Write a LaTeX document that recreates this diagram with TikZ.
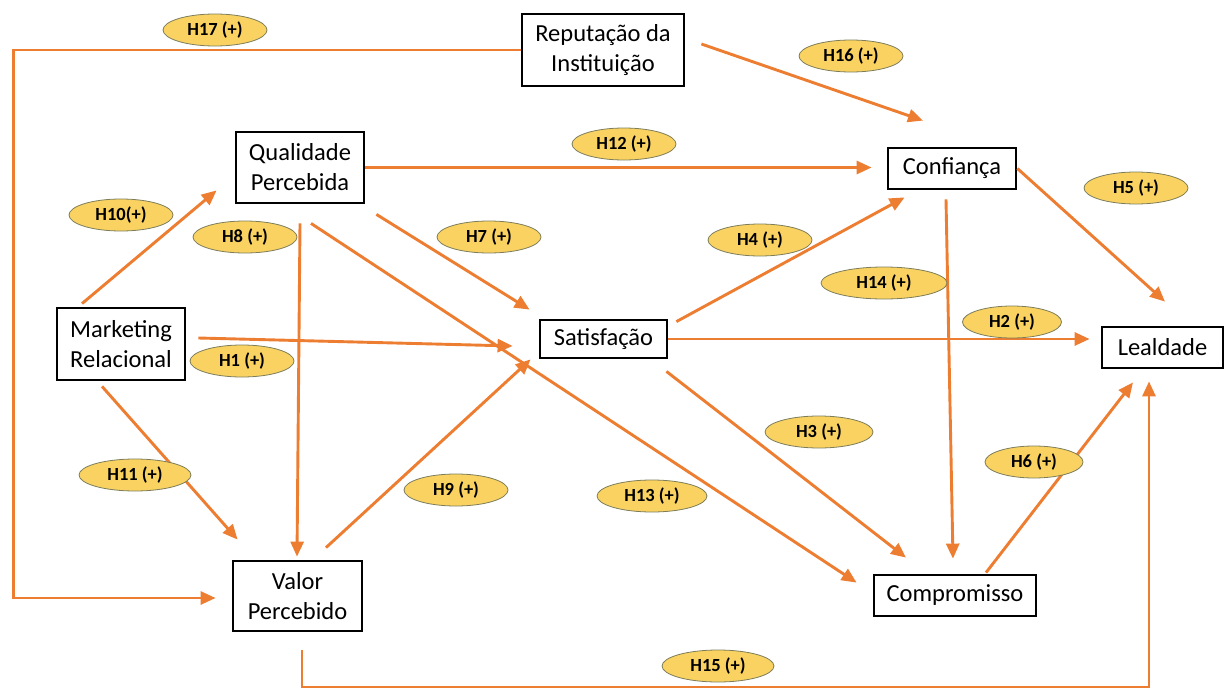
\documentclass[tikz,border=0pt]{standalone}
\usepackage{fontspec}
\setmainfont{Carlito}
\usetikzlibrary{arrows.meta,calc,shapes.geometric}
\definecolor{linkorange}{RGB}{237,125,49}
\definecolor{hypfill}{RGB}{249,210,98}
\definecolor{hypedge}{RGB}{125,125,90}
\tikzset{
  construct/.style={draw=black, line width=2.8pt, fill=white, inner sep=0pt,
    align=center, font=\fontsize{24.5}{30}\selectfont},
  hyp/.style={ellipse, draw=hypedge, line width=0.8pt, fill=hypfill, inner sep=0pt,
    minimum width=104pt, minimum height=32pt, font=\fontsize{18.5}{20}\selectfont\bfseries},
  link/.style={draw=linkorange, line width=2.9pt,
    -{Triangle[length=15pt,width=13pt]}}
}
\begin{document}
\begin{tikzpicture}[x=1pt,y=-1pt]
\useasboundingbox (0,0) rectangle (1224,688);

% constructs of the model
\node[construct, minimum width=162pt, minimum height=72pt] (rep)  at (603,50)     {Reputação da\\Instituição};
\node[construct, minimum width=128pt, minimum height=71pt] (qp)   at (300,167.5)  {Qualidade\\Percebida};
\node[construct, minimum width=128pt, minimum height=41pt] (conf) at (952,168.5)  {Confiança};
\node[construct, minimum width=128pt, minimum height=72pt] (mr)   at (121,344)    {Marketing\\Relacional};
\node[construct, minimum width=127pt, minimum height=38pt] (sat)  at (603.5,339)  {Satisfação};
\node[construct, minimum width=121pt, minimum height=41pt] (leal) at (1162.5,347.5) {Lealdade};
\node[construct, minimum width=129pt, minimum height=70pt] (vp)   at (297.5,596)  {Valor\\Percebido};
\node[construct, minimum width=162pt, minimum height=41pt] (comp) at (955,595.5)  {Compromisso};

% hypothesised paths
\draw[link] (rep.west) -- ++(-507,0) |- ($(vp.west)+(-16,2)$);                 % H17
\draw[link] ($(rep.east)+(16,-6)$) -- ($(conf.north)+(-29,-26)$);              % H16
\draw[link] (qp.east) -- ($(conf.west |- qp.east)+(-15,0)$);                   % H12
\draw[link] ($(mr.north)+(-39,-3)$) -- ($(qp.south west)+(-18,-14)$);          % H10
\draw[link] ($(qp.south)+(0,19)$) -- ($(vp.north)+(-0.5,-3)$);                 % H8
\draw[link] ($(qp.south)+(11,19)$) -- ($(comp.north west)+(-16,9)$);           % H13
\draw[link] ($(qp.south east)+(11,10)$) -- ($(sat.north west)+(-9,-9)$);       % H7
\draw[link] ($(mr.east)+(12,-6)$) -- ($(sat.west)+(-26,7)$);                   % H1
\draw[link] ($(mr.south)+(-19,5)$) -- ($(vp.north west)+(6,-20)$);             % H11
\draw[link] ($(vp.north)+(28.5,-12)$) -- ($(sat.south west)+(-8,0)$);          % H9
\draw[link] ($(sat.north east)+(8,3)$) -- ($(conf.south west)+(18,7)$);        % H4
\draw[link] (sat.east) -- ($(leal.west |- sat.east)+(-11,0)$);                 % H2
\draw[link] ($(sat.south east)+(-2,12)$) -- ($(comp.north)+(-49,-16)$);        % H3
\draw[link] ($(conf.south)+(-6,9)$) -- ($(comp.north)+(-2,-15)$);              % H14
\draw[link] (conf.east) -- ($(leal.north)+(2.5,-24)$);                         % H5
\draw[link] ($(comp.north)+(31,-1)$) -- ($(leal.south)+(-29.5,13)$);           % H6
\draw[link] ($(vp.south)+(4.5,18)$) -- ++(0,37) -| ($(leal.south)+(-13.5,12)$); % H15

% hypothesis labels
\node[hyp] (h17) at (215,30)   {H17 (+)};
\node[hyp] (h16) at (851,56)   {H16 (+)};
\node[hyp] (h12) at (624,144)  {H12 (+)};
\node[hyp] (h5)  at (1136,188) {H5 (+)};
\node[hyp] (h10) at (121,215)  {H10(+)};
\node[hyp] (h8)  at (245,237)  {H8 (+)};
\node[hyp] (h7)  at (489,237)  {H7 (+)};
\node[hyp] (h4)  at (760,240)  {H4 (+)};
\node[hyp, minimum width=126pt] (h14) at (884,283) {H14 (+)};
\node[hyp, minimum width=99pt]  (h2)  at (1012,322) {H2 (+)};
\node[hyp] (h1)  at (242,361)  {H1 (+)};
\node[hyp, minimum width=108pt] (h3) at (819,432) {H3 (+)};
\node[hyp, minimum width=98pt]  (h6) at (1034,462) {H6 (+)};
\node[hyp, minimum width=112pt] (h11) at (135,475) {H11 (+)};
\node[hyp] (h9)  at (456,490)  {H9 (+)};
\node[hyp, minimum width=110pt] (h13) at (652,496) {H13 (+)};
\node[hyp, minimum width=112pt] (h15) at (718,666) {H15 (+)};
\end{tikzpicture}
\end{document}
